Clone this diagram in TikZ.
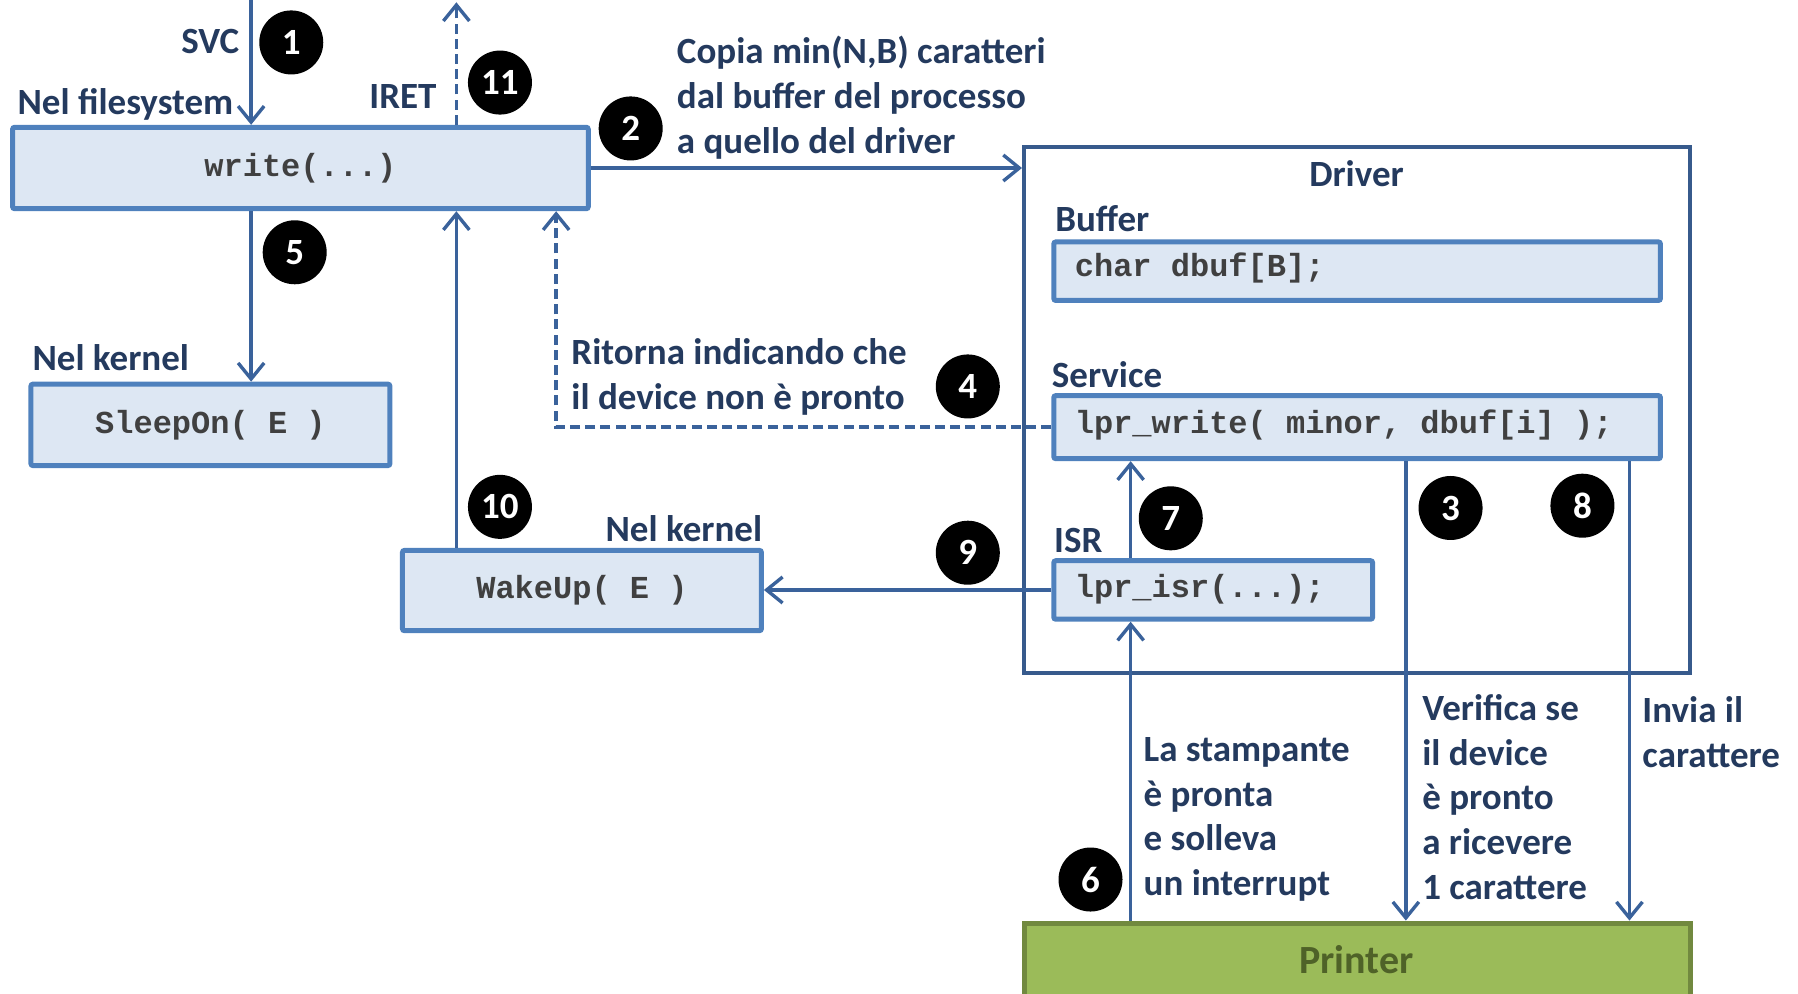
\documentclass[tikz,border=0pt]{standalone}
\usepackage{fontspec}
\setmainfont{Carlito}
\newfontfamily\codefont{Liberation Mono}
\usetikzlibrary{arrows.meta}

\definecolor{labelblue}{RGB}{36,58,94}
\definecolor{arrowblue}{RGB}{58,98,155}
\definecolor{boxedge}{RGB}{79,129,189}
\definecolor{boxfill}{RGB}{221,231,243}
\definecolor{driveredge}{RGB}{55,90,140}
\definecolor{codegray}{RGB}{64,64,64}
\definecolor{printerfill}{RGB}{155,187,89}
\definecolor{printeredge}{RGB}{113,137,63}
\definecolor{printertext}{RGB}{79,98,40}

\tikzset{
  lbl/.style={text=labelblue, font=\bfseries\fontsize{18.5}{22.4}\selectfont, inner sep=0pt, align=left},
  codebox/.style={draw=boxedge, fill=boxfill, line width=2.5pt, rounded corners=1pt, inner sep=0pt},
  code/.style={text=codegray, font=\codefont\bfseries\fontsize{16}{19}\selectfont, inner sep=0pt},
  badge/.style={circle, fill=black, text=white, font=\bfseries\fontsize{18.5}{22}\selectfont, minimum size=32pt, inner sep=0pt},
  arr/.style={draw=arrowblue, line width=1.7pt, -{Straight Barb[length=8pt, width=13pt]}},
  dashedarr/.style={arr, dash pattern=on 5pt off 2.6pt},
}

\begin{document}
\begin{tikzpicture}[x=0.5733pt, y=-0.5733pt]
\def \px {0.5733pt}
\def \svcx {219}
\def \iretx {398}
\def \retx {485}
\def \isrx {986}
\def \verx {1226}
\def \invx {1421}
\useasboundingbox (0,0) rectangle (1568,866);

%Column coordinates
\coordinate (svcin) at (\svcx,0);
\coordinate (iretout) at (\iretx,2);
\coordinate (ret) at (\retx,0);
\coordinate (cisr) at (\isrx,0);
\coordinate (cver) at (\verx,0);
\coordinate (cinv) at (\invx,0);

%Boxes on the left
\node[codebox, minimum width=502*\px, minimum height=71*\px, font=\codefont\bfseries\fontsize{16}{19}\selectfont, text=codegray] (write) at (262,146.5) {write(...)};
\node[codebox, minimum width=313*\px, minimum height=71*\px, font=\codefont\bfseries\fontsize{16}{19}\selectfont, text=codegray] (sleep) at (183.5,370.5) {SleepOn( E )};
\node[codebox, minimum width=313*\px, minimum height=70*\px, font=\codefont\bfseries\fontsize{16}{19}\selectfont, text=codegray] (wake) at (507.5,515) {WakeUp( E )};

%Driver
\node[draw=driveredge, line width=2pt, minimum width=581*\px, minimum height=459*\px, inner sep=0pt] (driver) at (1183.5,357.5) {};
\node[lbl] (drivertitle) at (1183,151) {Driver};
\node[codebox, minimum width=529*\px, minimum height=51*\px] (buffer) at (1183.5,236.5) {};
\node[code, anchor=west] (buffertxt) at (937,234) {char dbuf[B];};
\node[codebox, minimum width=529*\px, minimum height=55*\px] (service) at (1183.5,372.5) {};
\node[code, anchor=west] (servicetxt) at (937,371) {lpr\_write( minor, dbuf[i] );};
\node[codebox, minimum width=278*\px, minimum height=51*\px] (isr) at (1058,514.5) {};
\node[code, anchor=west] (isrtxt) at (937,514) {lpr\_isr(...);};

%Printer
\node[draw=printeredge, fill=printerfill, line width=2.5pt, minimum width=581*\px, minimum height=75*\px, inner sep=0pt] (printer) at (1183.5,842.5) {};
\node[text=printertext, font=\bfseries\fontsize{20}{24}\selectfont, inner sep=0pt] (printertxt) at (1183,837) {Printer};

%Labels
\node[lbl, anchor=east] (svc) at (209,36) {SVC};
\node[lbl, anchor=west] (nelfs) at (15,91) {Nel filesystem};
\node[lbl, anchor=east] (iret) at (381,84) {IRET};
\node[lbl, anchor=west] (copia) at (590,85) {Copia min(N,B) caratteri\\dal buffer del processo\\a quello del driver};
\node[lbl, anchor=west] (buflbl) at (920,191) {Buffer};
\node[lbl, anchor=west] (servlbl) at (917,327) {Service};
\node[lbl, anchor=west] (isrlbl) at (919,471) {ISR};
\node[lbl, anchor=west] (kernelone) at (28,312) {Nel kernel};
\node[lbl, anchor=east] (kerneltwo) at (665,461) {Nel kernel};
\node[lbl, anchor=west] (ritorna) at (498,328.5) {Ritorna indicando che\\il device non è pronto};
\node[lbl, anchor=west] (stampante) at (997,714.5) {La stampante\\è pronta\\e solleva\\un interrupt};
\node[lbl, anchor=west] (verifica) at (1240,695) {Verifica se\\il device\\è pronto\\a ricevere\\1 carattere};
\node[lbl, anchor=west] (invia) at (1432,638.5) {Invia il\\carattere};

%Connectors
\draw[arr] (svcin) -- (svcin |- write.north);
\draw[dashedarr] (write.north -| iretout) -- (iretout);
\draw[arr] (write.east) -- (driver.west |- write.east);
\draw[arr] (write.south -| svcin) -- (sleep.north -| svcin);
\draw[arr] (wake.north -| iretout) -- (write.south -| iretout);
\draw[dashedarr] (service.west) -- (service.west -| ret) -- (write.south -| ret);
\draw[arr] (isr.west) -- (wake.east |- isr.west);
\draw[arr] (isr.north -| cisr) -- (service.south -| cisr);
\draw[arr] (printer.north -| cisr) -- (isr.south -| cisr);
\draw[arr] (service.south -| cver) -- (printer.north -| cver);
\draw[arr] (service.south -| cinv) -- (printer.north -| cinv);

%Step numbers
\foreach \n/\x/\y in {1/254/37, 2/550/112, 3/1265/443, 4/844/337, 5/257/220, 6/951/767, 7/1021/452, 8/1380/441, 9/844/482, 10/436/442, 11/436/72}
  \node[badge] (b\n) at (\x,\y) {\n};

\end{tikzpicture}
\end{document}
